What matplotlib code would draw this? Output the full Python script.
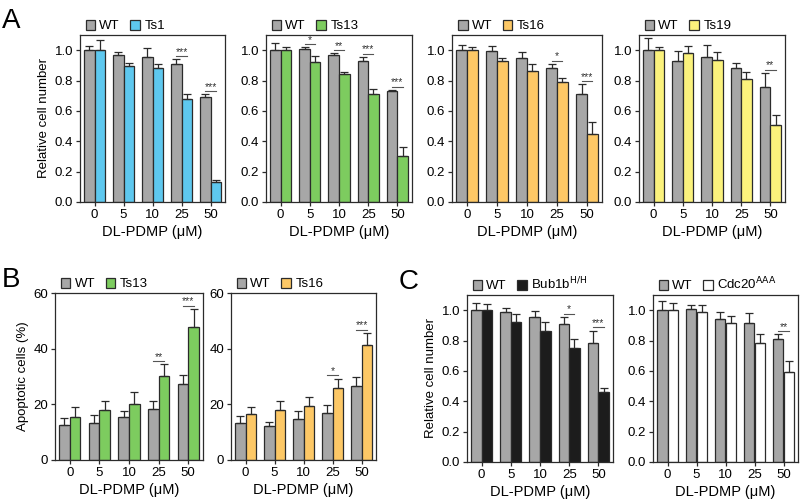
import numpy as np
import matplotlib
matplotlib.use('Agg')
import matplotlib.pyplot as plt

plt.rcParams['font.family'] = ['Liberation Sans', 'DejaVu Sans']

doses = ['0', '5', '10', '25', '50']

# panel A: relative cell number
wt_ts1 = [1.0, 0.97, 0.955, 0.91, 0.69]
wt_ts1_err = [0.03, 0.015, 0.06, 0.03, 0.02]
ts1 = [1.0, 0.895, 0.88, 0.68, 0.13]
ts1_err = [0.07, 0.02, 0.03, 0.03, 0.012]

wt_ts13 = [1.0, 1.01, 0.965, 0.93, 0.73]
wt_ts13_err = [0.045, 0.01, 0.015, 0.025, 0.008]
ts13 = [1.0, 0.925, 0.84, 0.71, 0.30]
ts13_err = [0.02, 0.035, 0.015, 0.035, 0.06]

wt_ts16 = [1.0, 0.995, 0.95, 0.885, 0.71]
wt_ts16_err = [0.035, 0.03, 0.035, 0.025, 0.065]
ts16 = [1.0, 0.93, 0.865, 0.79, 0.45]
ts16_err = [0.02, 0.02, 0.045, 0.03, 0.075]

wt_ts19 = [1.0, 0.93, 0.955, 0.885, 0.76]
wt_ts19_err = [0.08, 0.065, 0.08, 0.03, 0.09]
ts19 = [1.0, 0.98, 0.935, 0.81, 0.51]
ts19_err = [0.02, 0.045, 0.055, 0.045, 0.065]

# panel B: apoptotic cells (%)
wt_apo13 = [12.5, 13.4, 15.4, 18.2, 27.3]
wt_apo13_err = [2.6, 2.9, 2.1, 3.0, 3.2]
apo13 = [15.4, 18.0, 20.2, 30.3, 47.8]
apo13_err = [3.5, 3.1, 4.4, 4.1, 6.5]

wt_apo16 = [13.2, 12.3, 14.7, 16.9, 26.5]
wt_apo16_err = [2.5, 1.4, 3.0, 2.7, 3.2]
apo16 = [16.6, 18.0, 19.4, 26.0, 41.4]
apo16_err = [2.4, 3.1, 3.2, 3.2, 4.2]

# panel C: relative cell number
wt_bub = [1.0, 0.989, 0.954, 0.907, 0.784]
wt_bub_err = [0.046, 0.026, 0.042, 0.048, 0.08]
bub = [1.0, 0.925, 0.861, 0.751, 0.458]
bub_err = [0.04, 0.05, 0.06, 0.06, 0.03]

wt_cdc = [1.0, 1.011, 0.943, 0.914, 0.81]
wt_cdc_err = [0.06, 0.02, 0.045, 0.068, 0.03]
cdc = [1.0, 0.991, 0.914, 0.786, 0.595]
cdc_err = [0.05, 0.04, 0.049, 0.06, 0.073]

gray = '#a7a7a7'
edge = '#2b2b2b'


def px_axes(fig, x0, y0, x1, y1):
    W, H = 800, 503
    return fig.add_axes([x0 / W, 1 - y1 / H, (x1 - x0) / W, (y1 - y0) / H])


def panel(ax, wt, wt_err, mut, mut_err, color, label, ymax, yticks, ytl,
          sig, ylabel=None, gap=0.02):
    x = np.arange(len(doses))
    w = 0.36
    ax.bar(x - w / 2, wt, w, color=gray, edgecolor=edge, linewidth=0.9,
           label='WT', zorder=2)
    ax.bar(x + w / 2, mut, w, color=color, edgecolor=edge, linewidth=0.9,
           label=label, zorder=2)
    for xs, v, e in [(x - w / 2, wt, wt_err), (x + w / 2, mut, mut_err)]:
        ax.errorbar(xs, v, yerr=[np.zeros(len(e)), e], fmt='none',
                    ecolor=edge, elinewidth=0.9, capsize=3, capthick=0.9,
                    zorder=3)
    for i, s in sig.items():
        top = max(wt[i] + wt_err[i], mut[i] + mut_err[i]) + gap * ymax
        ax.plot([i - w / 2, i + w / 2], [top, top], color='#555555', lw=0.8)
        ax.text(i, top - 0.005 * ymax, s, ha='center', va='bottom',
                fontsize=7.5, color='#333333')
    ax.set_xlim(-0.5, 4.5)
    ax.set_ylim(0, ymax)
    ax.set_xticks(x)
    ax.set_xticklabels(doses)
    ax.set_yticks(yticks)
    ax.set_yticklabels(ytl)
    ax.tick_params(labelsize=9.5, length=3, width=0.9, color=edge, pad=2)
    for sp in ax.spines.values():
        sp.set_linewidth(0.9)
        sp.set_color(edge)
    ax.set_xlabel('DL-PDMP (\u03bcM)', fontsize=10.5, labelpad=3)
    if ylabel:
        ax.set_ylabel(ylabel, fontsize=9.5, labelpad=3)
    ax.legend(loc='lower left', bbox_to_anchor=(0.02, 1.0), ncol=2,
              frameon=False, fontsize=9.5, handlelength=0.75,
              handleheight=0.75, handletextpad=0.3, columnspacing=0.8,
              borderaxespad=0.1, borderpad=0.1)


fig = plt.figure(figsize=(8, 5.03), dpi=100)

rel_ticks = [0, 0.2, 0.4, 0.6, 0.8, 1.0]
rel_tl = ['0.0', '0.2', '0.4', '0.6', '0.8', '1.0']
apo_ticks = [0, 20, 40, 60]
apo_tl = ['0', '20', '40', '60']

ax = px_axes(fig, 80, 35, 225, 202)
panel(ax, wt_ts1, wt_ts1_err, ts1, ts1_err, '#5ec8ef', 'Ts1', 1.1,
      rel_ticks, rel_tl, {3: '***', 4: '***'}, 'Relative cell number')
ax = px_axes(fig, 266, 35, 412, 202)
panel(ax, wt_ts13, wt_ts13_err, ts13, ts13_err, '#7dcc5f', 'Ts13', 1.1,
      rel_ticks, rel_tl, {1: '*', 2: '**', 3: '***', 4: '***'})
ax = px_axes(fig, 452, 35, 602, 202)
panel(ax, wt_ts16, wt_ts16_err, ts16, ts16_err, '#fdc866', 'Ts16', 1.1,
      rel_ticks, rel_tl, {3: '*', 4: '***'})
ax = px_axes(fig, 639, 35, 785, 202)
panel(ax, wt_ts19, wt_ts19_err, ts19, ts19_err, '#fbf27c', 'Ts19', 1.1,
      rel_ticks, rel_tl, {4: '**'})

ax = px_axes(fig, 55, 293, 203, 460)
panel(ax, wt_apo13, wt_apo13_err, apo13, apo13_err, '#7dcc5f', 'Ts13', 60,
      apo_ticks, apo_tl, {3: '**', 4: '***'}, 'Apoptotic cells (%)')
ax = px_axes(fig, 231, 293, 376, 460)
panel(ax, wt_apo16, wt_apo16_err, apo16, apo16_err, '#fdc866', 'Ts16', 60,
      apo_ticks, apo_tl, {3: '*', 4: '***'})

ax = px_axes(fig, 467, 295, 613, 462)
panel(ax, wt_bub, wt_bub_err, bub, bub_err, '#1c1c1c',
      'Bub1b$^{\\mathrm{H/H}}$', 1.1,
      rel_ticks, rel_tl, {3: '*', 4: '***'}, 'Relative cell number')
ax = px_axes(fig, 653, 295, 798, 462)
panel(ax, wt_cdc, wt_cdc_err, cdc, cdc_err, 'white',
      'Cdc20$^{\\mathrm{AAA}}$', 1.1,
      rel_ticks, rel_tl, {4: '**'})

fig.text(2 / 800, 1 - 28 / 503, 'A', fontsize=20)
fig.text(2 / 800, 1 - 287 / 503, 'B', fontsize=20)
fig.text(399 / 800, 1 - 289 / 503, 'C', fontsize=20)

fig.savefig('out.png', dpi=100)
